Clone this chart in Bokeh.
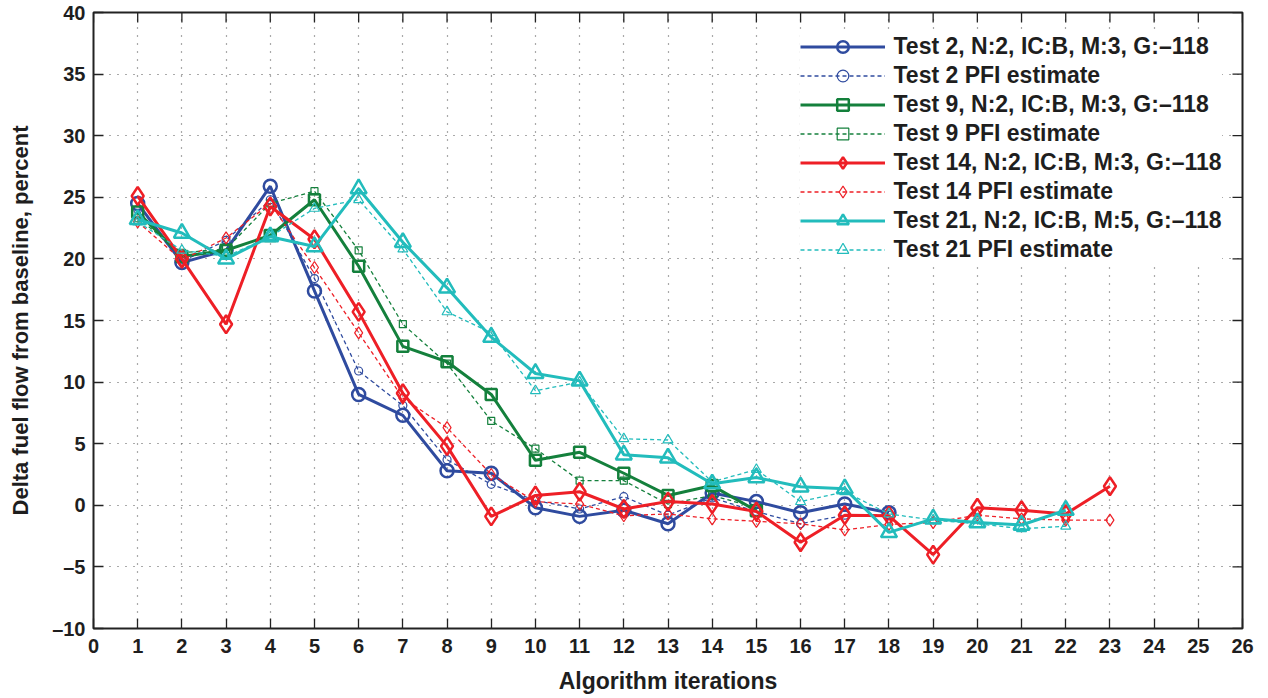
import math
from bokeh.plotting import figure
from bokeh.models import Legend, LegendItem, FixedTicker, Range1d
from bokeh.embed import file_html
from bokeh.resources import INLINE

# ---------------- data ----------------
iters_2 = list(range(1, 19))
test2 = [24.5, 19.7, 20.7, 25.9, 17.4, 9.0, 7.3, 2.8, 2.6, -0.2, -0.9, -0.4, -1.5, 1.0, 0.3, -0.6, 0.1, -0.6]
pfi2 = [24.0, 19.8, 21.5, 24.8, 18.4, 10.9, 8.1, 3.7, 1.7, 0.4, -0.3, 0.7, -0.8, 0.6, -0.5, -1.5, -0.8, -0.8]

iters_9 = list(range(1, 16))
test9 = [23.8, 20.2, 20.7, 21.9, 24.8, 19.4, 12.9, 11.65, 9.0, 3.65, 4.3, 2.6, 0.8, 1.6, -0.45]
pfi9 = [23.3, 20.5, 20.8, 24.5, 25.5, 20.7, 14.7, 11.5, 6.85, 4.6, 2.0, 2.0, 0.1, 0.8, -0.2]

iters_14 = list(range(1, 24))
test14 = [25.1, 20.0, 14.7, 24.25, 21.6, 15.7, 9.1, 4.8, -0.9, 0.8, 1.1, -0.3, 0.3, 0.1, -0.5,
          -3.0, -0.8, -0.85, -4.0, -0.2, -0.4, -0.7, 1.55]
pfi14 = [23.0, 19.9, 21.7, 24.5, 19.3, 14.0, 8.7, 6.3, 2.5, 0.3, 0.1, -0.85, -0.7, -1.1, -1.3,
         -1.5, -2.0, -1.55, -1.4, -0.8, -1.1, -1.2, -1.2]

iters_21 = list(range(1, 23))
test21 = [23.2, 22.1, 20.0, 21.8, 21.0, 25.7, 21.35, 17.65, 13.65, 10.7, 10.1, 4.1, 3.85, 1.75, 2.25,
          1.5, 1.35, -2.2, -1.1, -1.4, -1.6, -0.4]
pfi21 = [23.0, 20.7, 20.2, 21.8, 24.1, 24.8, 20.8, 15.7, 14.0, 9.3, 10.0, 5.4, 5.3, 1.9, 2.9,
         0.3, 1.1, -0.7, -1.2, -1.5, -1.9, -1.7]

labels = [
    "Test 2, N:2, IC:B, M:3, G:\u2013118", "Test 2 PFI estimate",
    "Test 9, N:2, IC:B, M:3, G:\u2013118", "Test 9 PFI estimate",
    "Test 14, N:2, IC:B, M:3, G:\u2013118", "Test 14 PFI estimate",
    "Test 21, N:2, IC:B, M:5, G:\u2013118", "Test 21 PFI estimate",
]
x_ticks = list(range(0, 27))
y_ticks = list(range(-10, 41, 5))
x_title = "Algorithm iterations"
y_title = "Delta fuel flow from baseline, percent"

# ---------------- styles ----------------
BLUE = "#2f4b9f"
GREEN = "#14803c"
RED = "#ee1f26"
CYAN = "#22bcbc"
FONT = "Liberation Sans"
TXT = "#1e1e1e"
FRAME = "#222222"

p = figure(width=1268, height=698,
           x_range=Range1d(x_ticks[0], x_ticks[-1]), y_range=Range1d(y_ticks[0], y_ticks[-1]),
           output_backend="svg", toolbar_location=None,
           min_border_left=93, min_border_right=26, min_border_top=12, min_border_bottom=70)

p.background_fill_color = "white"
p.outline_line_color = FRAME
p.outline_line_width = 2

for ax in (p.xaxis[0], p.yaxis[0]):
    ax.axis_line_color = None
    ax.major_tick_in = 10
    ax.major_tick_out = 0
    ax.major_tick_line_color = FRAME
    ax.major_tick_line_width = 1.3
    ax.minor_tick_line_color = None
    ax.major_label_text_font = FONT
    ax.major_label_text_font_style = "bold"
    ax.major_label_text_font_size = "20px"
    ax.major_label_text_color = TXT
    ax.axis_label_text_font = FONT
    ax.axis_label_text_font_style = "bold"
    ax.axis_label_text_color = TXT

p.xaxis.axis_label_text_font_size = "23px"
p.yaxis.axis_label_text_font_size = "22px"
p.xaxis.ticker = FixedTicker(ticks=x_ticks)
p.yaxis.ticker = FixedTicker(ticks=y_ticks)
p.yaxis.major_label_overrides = {t: (f"\u2013{abs(t)}" if t < 0 else str(t)) for t in y_ticks}
p.xaxis.axis_label = x_title
p.yaxis.axis_label = y_title
p.xaxis.major_label_standoff = 10
p.yaxis.major_label_standoff = 8
p.xaxis.axis_label_standoff = 12
p.yaxis.axis_label_standoff = 16

# inward ticks on the top and right edges of the frame
p.ray(x=x_ticks, y=[y_ticks[-1]] * len(x_ticks), length=10, length_units="screen",
      angle=-math.pi / 2, line_color=FRAME, line_width=1.3)
p.ray(x=[x_ticks[-1]] * len(y_ticks), y=y_ticks, length=10, length_units="screen",
      angle=math.pi, line_color=FRAME, line_width=1.3)

p.xgrid.ticker = FixedTicker(ticks=x_ticks)
p.ygrid.ticker = FixedTicker(ticks=y_ticks)
for g in (p.xgrid[0], p.ygrid[0]):
    g.grid_line_color = "#555555"
    g.grid_line_dash = "1 7"
    g.grid_line_width = 1.2

series = [
    (iters_2, test2, BLUE, "circle", True),
    (iters_2, pfi2, BLUE, "circle", False),
    (iters_9, test9, GREEN, "square", True),
    (iters_9, pfi9, GREEN, "square", False),
    (iters_14, test14, RED, "diamond", True),
    (iters_14, pfi14, RED, "diamond", False),
    (iters_21, test21, CYAN, "triangle", True),
    (iters_21, pfi21, CYAN, "triangle", False),
]
marker_size = {"circle": 13, "square": 11, "diamond": 18, "triangle": 16}
marker_small = {"circle": 8, "square": 7, "diamond": 12, "triangle": 10}

items = []
for (xs, ys, col, mk, solid), lab in zip(series, labels):
    if solid:
        lr = p.line(xs, ys, line_color=col, line_width=3)
        sr = p.scatter(xs, ys, marker=mk, size=marker_size[mk], line_color=col,
                       line_width=2.5, fill_color=None)
    else:
        lr = p.line(xs, ys, line_color=col, line_width=1.3, line_dash="4 3")
        sr = p.scatter(xs, ys, marker=mk, size=marker_small[mk], line_color=col,
                       line_width=1.2, fill_color=None)
    items.append(LegendItem(label=lab, renderers=[lr, sr]))

legend = Legend(items=items, location=(706.5, 364.5))
legend.label_text_font = FONT
legend.label_text_font_style = "bold"
legend.label_text_font_size = "23px"
legend.label_text_color = TXT
legend.glyph_width = 85
legend.glyph_height = 29
legend.label_height = 29
legend.spacing = 0
legend.padding = 6
legend.margin = 0
legend.label_standoff = 9
legend.border_line_color = None
legend.background_fill_color = "white"
legend.background_fill_alpha = 1.0
p.add_layout(legend)

open("out.html", "w").write(file_html(p, INLINE))
